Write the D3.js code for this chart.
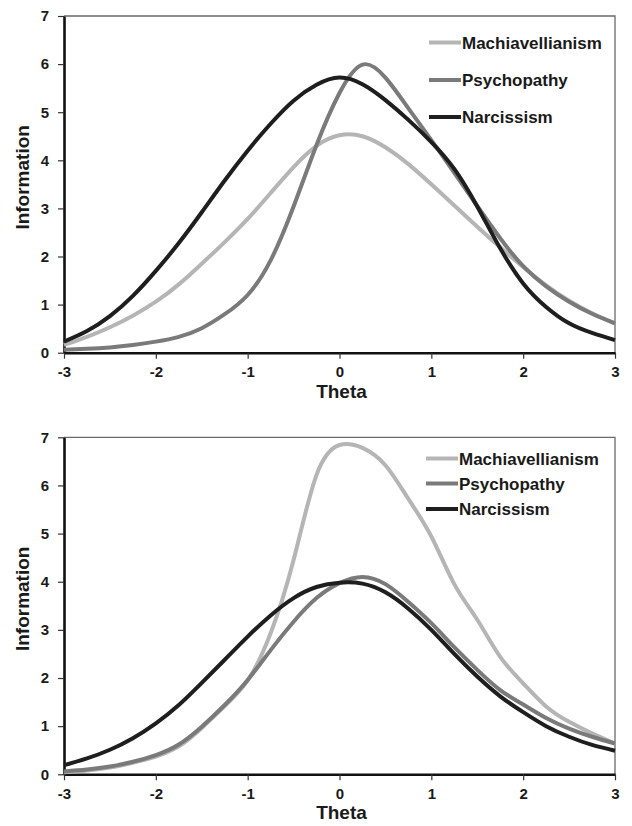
<!DOCTYPE html>
<html>
<head>
    <meta charset="utf-8">
    <title>Information curves</title>
    <style>
        html,
        body {
            margin: 0;
            padding: 0;
            background-color: white;
        }

        svg text {
            font-family: 'Liberation Sans', Arial, sans-serif;
            font-weight: bold;
            fill: #1a1a1a;
        }
    </style>
</head>
<body>
    <div id="chart"></div>
    <script src="https://cdnjs.cloudflare.com/ajax/libs/d3/7.8.5/d3.min.js"></script>
    <script>
        // theta grid shared by every curve
        const theta = [-3, -2.75, -2.5, -2.25, -2, -1.75, -1.5, -1.25, -1, -0.75, -0.5, -0.25, 0,
            0.25, 0.5, 0.75, 1, 1.25, 1.5, 1.75, 2, 2.25, 2.5, 2.75, 3];

        const seriesNames = ["Machiavellianism", "Psychopathy", "Narcissism"];
        const seriesColors = ["#b5b5b5", "#7a7a7a", "#1e1e1e"];

        // upper panel
        const topMach = [0.16, 0.33, 0.53, 0.77, 1.06, 1.42, 1.85, 2.30, 2.78, 3.32, 3.86, 4.30, 4.52,
            4.50, 4.27, 3.92, 3.50, 3.06, 2.62, 2.19, 1.78, 1.40, 1.08, 0.82, 0.61];
        const topPsych = [0.06, 0.08, 0.11, 0.16, 0.23, 0.33, 0.51, 0.80, 1.20, 1.92, 3.04, 4.32, 5.40,
            5.99, 5.72, 5.08, 4.42, 3.74, 3.05, 2.38, 1.80, 1.38, 1.06, 0.81, 0.61];
        const topNarc = [0.23, 0.45, 0.76, 1.18, 1.70, 2.28, 2.92, 3.58, 4.20, 4.76, 5.24, 5.57, 5.72,
            5.58, 5.25, 4.84, 4.38, 3.82, 3.04, 2.17, 1.44, 0.95, 0.61, 0.41, 0.26];

        // lower panel
        const botMach = [0.04, 0.08, 0.14, 0.24, 0.37, 0.58, 0.96, 1.42, 1.95, 2.93, 4.45, 6.22, 6.84,
            6.78, 6.42, 5.72, 4.94, 3.95, 3.21, 2.44, 1.89, 1.41, 1.09, 0.85, 0.64];
        const botPsych = [0.06, 0.10, 0.16, 0.26, 0.40, 0.62, 0.99, 1.44, 1.96, 2.58, 3.17, 3.66, 3.97,
            4.10, 3.95, 3.58, 3.14, 2.64, 2.17, 1.75, 1.45, 1.17, 0.95, 0.78, 0.64];
        const botNarc = [0.19, 0.33, 0.51, 0.75, 1.06, 1.44, 1.90, 2.38, 2.86, 3.30, 3.66, 3.89, 3.98,
            3.96, 3.78, 3.44, 3.00, 2.50, 2.03, 1.62, 1.29, 1.00, 0.78, 0.61, 0.49];

        const xTicks = [-3, -2, -1, 0, 1, 2, 3];
        const yTicks = [0, 1, 2, 3, 4, 5, 6, 7];

        const width = 632;
        const height = 826;

        const svg = d3.select("#chart")
            .append("svg")
            .attr("width", width)
            .attr("height", height);

        const x = d3.scaleLinear().domain([-3, 3]).range([64, 615]);

        drawPanel(16, 352.7, [topMach, topPsych, topNarc], { x: 429, textX: 462, rows: [42.5, 80, 117] });
        drawPanel(437.3, 774.3, [botMach, botPsych, botNarc], { x: 426, textX: 459, rows: [458.5, 483.5, 509] });

        function drawPanel(top, bottom, values, legend) {
            const y = d3.scaleLinear().domain([0, 7]).range([bottom, top]);
            const g = svg.append("g");

            // top + right frame
            g.append("path")
                .attr("d", `M${x(-3)},${y(7)}H${x(3)}V${y(0)}`)
                .attr("fill", "none")
                .attr("stroke", "#6a6a6a")
                .attr("stroke-width", 1.3);

            const xAxis = g.append("g")
                .attr("transform", `translate(0,${bottom})`)
                .call(d3.axisBottom(x).tickValues(xTicks).tickFormat(d => String(d))
                    .tickSize(6).tickPadding(8).tickSizeOuter(0));

            const yAxis = g.append("g")
                .attr("transform", `translate(${x(-3)},0)`)
                .call(d3.axisLeft(y).tickValues(yTicks).tickFormat(d => String(d))
                    .tickSize(6).tickPadding(9).tickSizeOuter(0));

            [xAxis, yAxis].forEach(ax => {
                ax.select(".domain").attr("stroke", "#111").attr("stroke-width", 2.6);
                ax.selectAll(".tick line").attr("stroke", "#333").attr("stroke-width", 1.2);
                ax.selectAll(".tick text")
                    .attr("font-size", "15px")
                    .attr("font-family", "'Liberation Sans', Arial, sans-serif")
                    .attr("font-weight", "bold")
                    .attr("fill", "#1a1a1a");
            });

            g.append("text")
                .attr("x", (x(-3) + x(3)) / 2 + 2)
                .attr("y", bottom + 45)
                .attr("text-anchor", "middle")
                .attr("font-size", "19px")
                .text("Theta");

            g.append("text")
                .attr("transform", `translate(29,${(top + bottom) / 2 - 7}) rotate(-90)`)
                .attr("text-anchor", "middle")
                .attr("font-size", "19px")
                .text("Information");

            const line = d3.line()
                .x((d, i) => x(theta[i]))
                .y(d => y(d))
                .curve(d3.curveNatural);

            g.selectAll("path.curve")
                .data(values)
                .enter()
                .append("path")
                .attr("class", "curve")
                .attr("d", line)
                .attr("fill", "none")
                .attr("stroke", (d, i) => seriesColors[i])
                .attr("stroke-width", 4)
                .attr("stroke-linejoin", "round");

            const items = g.selectAll("g.legend-item")
                .data(seriesNames)
                .enter()
                .append("g")
                .attr("class", "legend-item")
                .attr("transform", (d, i) => `translate(0,${legend.rows[i]})`);

            items.append("line")
                .attr("x1", legend.x)
                .attr("x2", legend.textX - 1)
                .attr("stroke", (d, i) => seriesColors[i])
                .attr("stroke-width", 4);

            items.append("text")
                .attr("x", legend.textX)
                .attr("dy", "0.36em")
                .attr("font-size", "17px")
                .text(d => d);
        }
    </script>
</body>
</html>
